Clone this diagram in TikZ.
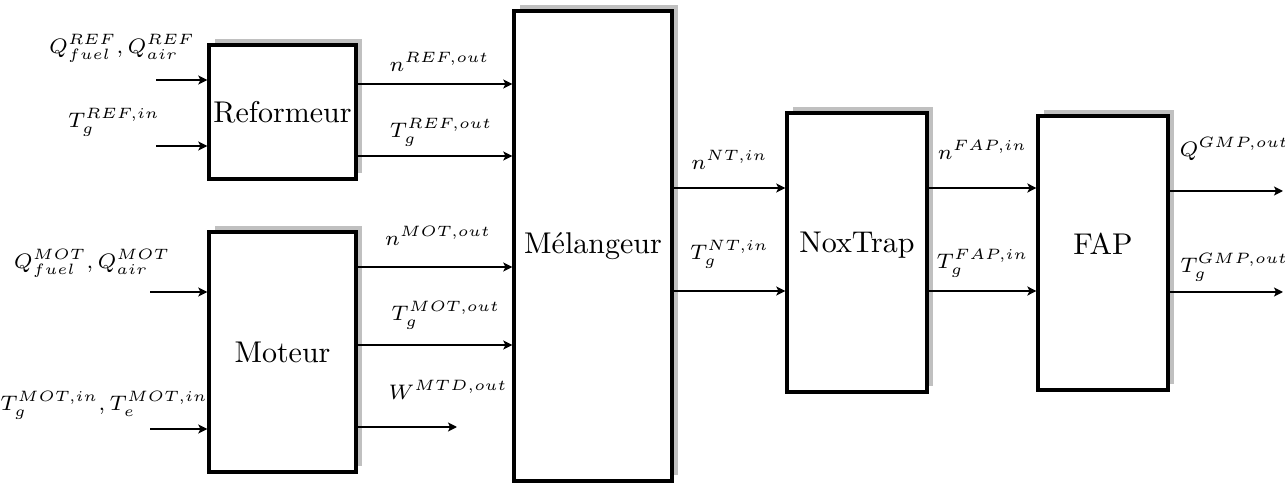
\documentclass[tikz,border=0pt]{standalone}
\usepackage{amsmath,amssymb}
\usepackage{xcolor}
\usepackage{tikz}
\usetikzlibrary{arrows.meta,positioning,shadows,calc}
\definecolor{shgray}{RGB}{192,192,192}

\begin{document}
\begin{tikzpicture}[
			x=0.3333pt, y=-0.3333pt,
			block/.style={rectangle, draw=black, line width=1.1pt, fill=white, inner sep=0pt, align=center,
				general shadow={fill=shgray, shadow xshift=2pt, shadow yshift=2pt}},
			flow/.style={-{Stealth[length=3pt, width=3pt, inset=0.7pt]}, semithick},
			lbl/.style={inner sep=0pt, font=\scriptsize}
		]
			\useasboundingbox (0,0) rectangle (1285,483);
			
			% blocks
			\node[block, minimum width=49pt, minimum height=44.7pt] (ref) at (282.5,112) {Reformeur};
			\node[block, minimum width=49pt, minimum height=80pt] (mot) at (282.5,352) {Moteur};
			\node[block, minimum width=52.7pt, minimum height=156.7pt] (mel) at (593,246) {Mélangeur};
			\node[block, minimum width=46.7pt, minimum height=93pt, text depth=7pt] (nox) at (857,252.5) {NoxTrap};
			\node[block, minimum width=43.3pt, minimum height=91.3pt, text depth=6pt] (fap) at (1103,253) {FAP};
			
			% rows of the flows
			\coordinate (inR1) at (156,80);
			\coordinate (inR2) at (156,146);
			\coordinate (inM1) at (150,292);
			\coordinate (inM2) at (150,429);
			\coordinate (rR1) at (0,84);
			\coordinate (rR2) at (0,156);
			\coordinate (rM1) at (0,267);
			\coordinate (rM2) at (0,345);
			\coordinate (wEnd) at (457,427);
			\coordinate (rN1) at (0,188);
			\coordinate (rN2) at (0,291);
			\coordinate (outG1) at (1283,191);
			\coordinate (outG2) at (1283,292);
			
			% inputs
			\draw[flow] (inR1) -- (inR1 -| ref.west);
			\draw[flow] (inR2) -- (inR2 -| ref.west);
			\draw[flow] (inM1) -- (inM1 -| mot.west);
			\draw[flow] (inM2) -- (inM2 -| mot.west);
			\node[lbl, above=5.7pt of inR1, xshift=-11.3pt] (lQref) {$Q_{fuel}^{REF},Q_{air}^{REF}$};
			\node[lbl, above=3pt of inR2, xshift=-14pt] (lTref) {$T_g^{REF,in}$};
			\node[lbl, above=4.7pt of inM1, xshift=-19.3pt] (lQmot) {$Q_{fuel}^{MOT},Q_{air}^{MOT}$};
			\node[lbl, above=3pt of inM2, xshift=-15.3pt] (lTmot) {$T_g^{MOT,in},T_e^{MOT,in}$};
			
			% to the mixer
			\draw[flow] (ref.east |- rR1) -- node[lbl, pos=0.53, above=4pt] {$n^{REF,out}$} (mel.west |- rR1);
			\draw[flow] (ref.east |- rR2) -- node[lbl, pos=0.54, above=3pt] {$T_g^{REF,out}$} (mel.west |- rR2);
			\draw[flow] (mot.east |- rM1) -- node[lbl, pos=0.52, above=6.7pt] {$n^{MOT,out}$} (mel.west |- rM1);
			\draw[flow] (mot.east |- rM2) -- node[lbl, pos=0.57, above=5pt] {$T_g^{MOT,out}$} (mel.west |- rM2);
			\draw[flow] (mot.east |- wEnd) -- node[lbl, pos=0.91, above=9pt] {$W^{MTD,out}$} (wEnd);
			
			% mixer -> NoxTrap -> FAP
			\draw[flow] (mel.east |- rN1) -- node[lbl, above=6pt] {$n^{NT,in}$} (nox.west |- rN1);
			\draw[flow] (mel.east |- rN2) -- node[lbl, above=7.3pt] {$T_g^{NT,in}$} (nox.west |- rN2);
			\draw[flow] (nox.east |- rN1) -- node[lbl, above=9.3pt] {$n^{FAP,in}$} (fap.west |- rN1);
			\draw[flow] (nox.east |- rN2) -- node[lbl, above=4.3pt] {$T_g^{FAP,in}$} (fap.west |- rN2);
			\draw[flow] (fap.east |- outG1) -- node[lbl, pos=0.57, above=9.7pt] {$Q^{GMP,out}$} (outG1);
			\draw[flow] (fap.east |- outG2) -- node[lbl, pos=0.57, above=3.3pt] {$T_g^{GMP,out}$} (outG2);
		\end{tikzpicture}
\end{document}
